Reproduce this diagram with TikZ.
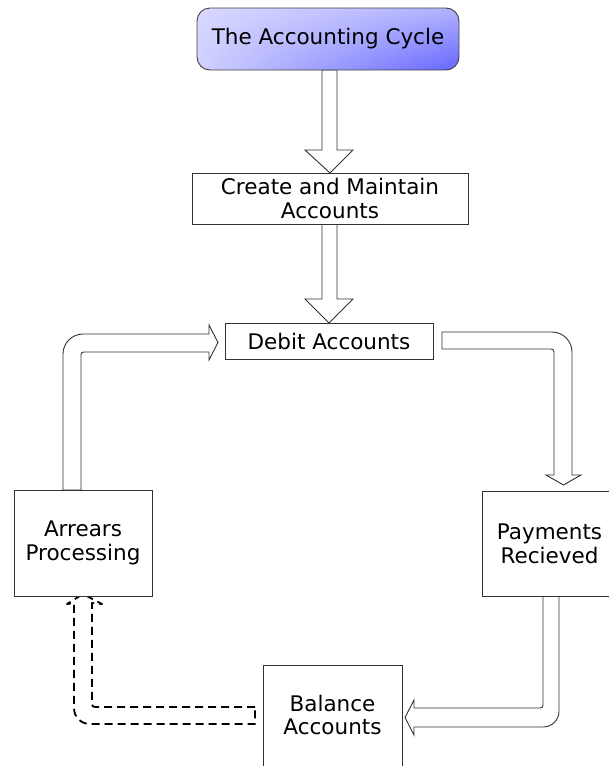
\documentclass[tikz,border=0pt]{standalone}
\usepackage{fontspec}
\setmainfont{DejaVu Sans}
\usetikzlibrary{calc,fadings}
\begin{document}
\begin{tikzpicture}[x=1pt,y=-1pt,
  box/.style={draw=black!80, line width=0.9pt, fill=white, inner sep=0pt, align=center,
    font=\fontsize{21.5}{24}\selectfont},
  barrow/.style={draw=black!80, line width=0.9pt, fill=white, line join=miter},
  darrow/.style={draw=black, line width=1.8pt, dash pattern=on 8pt off 5pt, line join=round}]
\useasboundingbox (0,0) rectangle (609,766);
% block arrows
\draw[barrow] (322,70) -- (322,150) -- (305,150) -- (330,173) -- (353,150) -- (337,150) -- (337,70) -- cycle;
\draw[barrow] (322,224) -- (322,299) -- (305,299) -- (329,323) -- (353,299) -- (337,299) -- (337,224) -- cycle;
\draw[barrow] (63,490) -- (63,354) .. controls (63,343) and (72,334) .. (83,334) -- (209,334) -- (209,325) -- (218,342.5) -- (209,360) -- (209,352) -- (84,352) .. controls (82,352) and (81,353) .. (81,355) -- (81,490) -- cycle;
\draw[barrow] (442,332) -- (552,332) .. controls (563,332) and (572,341) .. (572,352) -- (572,475) -- (581,475) -- (563.5,485) -- (546,475) -- (554,475) -- (554,352) .. controls (554,350) and (553,349) .. (551,349) -- (442,349) -- cycle;
\draw[barrow] (543,596) -- (543,705) .. controls (543,707) and (542,708) .. (540,708) -- (414,708) -- (414,700) -- (405,717.5) -- (414,735) -- (414,727) -- (543,727) .. controls (552,727) and (559,720) .. (559,711) -- (559,596) -- cycle;
\draw[darrow] (255,707) -- (95,707) .. controls (93,707) and (92,706) .. (92,704) -- (92,603) -- (102,604) -- (83,594) -- (67,604) -- (74,603) -- (74,708) .. controls (74,717) and (81,724) .. (90,724) -- (255,724) -- cycle;
% nodes
\node[box, draw=black!75, rounded corners=13pt, left color=blue!15!white, right color=blue!30!white,
  path picture={\shade[left color=blue!18!white, right color=blue!60!white, path fading=north]
    (path picture bounding box.north west) rectangle (path picture bounding box.south east);},
  minimum width=262pt, minimum height=62pt] (title) at (328,39) {The Accounting Cycle};
\node[box, minimum width=276pt, minimum height=51pt] (create) at (330,198.5) {Create and Maintain\\Accounts};
\node[box, minimum width=208pt, minimum height=36pt] (debit) at (329,341) {Debit Accounts};
\node[box, minimum width=138pt, minimum height=106pt] (arrears) at (83,543) {Arrears\\Processing};
\node[box, minimum width=135pt, minimum height=105pt] (payments) at (549.5,543.5) {Payments\\Recieved};
\node[box, minimum width=139pt, minimum height=106pt] (balance) at (332.5,718) {\raisebox{6pt}{\begin{tabular}{@{}c@{}}Balance\\[-1pt]Accounts\end{tabular}}};
\end{tikzpicture}
\end{document}
